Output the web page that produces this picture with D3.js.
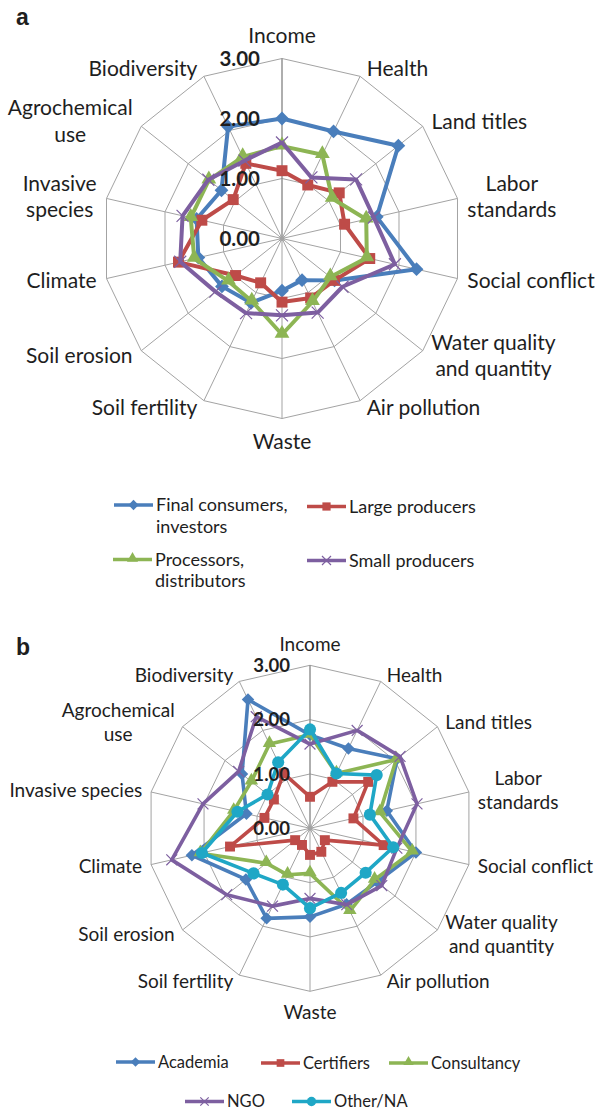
<!DOCTYPE html>
<html><head><meta charset="utf-8">
<script src="https://cdn.jsdelivr.net/npm/d3@7"></script>
<style>
body{margin:0;background:#fff}
svg text{font-family:Lato,"Open Sans",sans-serif;fill:#1e1e1e}
</style>
</head><body>
<svg id="c" width="596" height="1113"></svg>
<script>
// ---------- DATA ----------
const axes = ["Income","Health","Land titles","Labor standards","Social conflict","Water quality and quantity","Air pollution","Waste","Soil fertility","Soil erosion","Climate","Invasive species","Agrochemical use","Biodiversity"];
const tickValues = [0,1,2,3];
const tickLabels = ["0.00","1.00","2.00","3.00"];

const groupsA = ["Final consumers, investors","Large producers","Processors, distributors","Small producers"];
const finalConsumers = [2.00,1.98,2.48,1.62,2.30,1.12,0.77,0.87,1.19,1.28,1.43,1.46,1.29,2.07];
const largeProducers = [1.13,0.99,1.22,1.07,1.50,1.12,1.10,1.06,0.82,0.99,1.77,1.37,1.04,1.39];
const processors     = [1.54,1.55,1.07,1.44,1.45,1.03,1.17,1.60,1.16,1.14,1.50,1.56,1.56,1.51];
const smallProducers = [1.60,1.13,1.58,1.57,1.93,1.29,1.37,1.28,1.38,1.42,1.74,1.70,1.57,1.44];

const groupsB = ["Academia","Certifiers","Consultancy","NGO","Other/NA"];
const academia    = [1.72,1.63,2.05,1.45,2.00,1.58,1.55,1.63,1.84,1.51,2.23,1.20,1.60,2.63];
const certifiers  = [0.58,0.95,1.37,0.82,1.39,0.35,0.48,0.49,0.34,0.35,1.51,0.86,0.85,1.12];
const consultancy = [1.72,1.12,2.03,1.32,1.93,1.52,1.69,0.83,0.95,1.03,2.07,1.44,1.38,1.72];
const ngo         = [1.55,2.00,2.12,2.02,1.64,1.69,1.56,1.29,1.59,1.96,2.61,2.02,1.68,2.28];
const otherNA     = [1.82,1.12,1.57,1.13,1.57,1.31,1.32,1.47,1.15,1.33,2.04,1.37,1.00,1.35];

// ---------- STYLE ----------
const col = {blue:"#4A7EBB", red:"#BE4B48", green:"#8DB554", purple:"#7D5FA0", teal:"#1FA7C6"};
const svg = d3.select("#c");

function marker(sel, type, color, s){
  if(type==="diamond"){
    sel.append("path").attr("d", d3.symbol(d3.symbolSquare, 95*s*s)()).attr("transform","rotate(45)").attr("fill", color);
  } else if(type==="square"){
    sel.append("path").attr("d", d3.symbol(d3.symbolSquare, 120*s*s)()).attr("fill", color);
  } else if(type==="triangle"){
    sel.append("path").attr("d", d3.symbol(d3.symbolTriangle, 95*s*s)()).attr("transform","translate(0,-1)").attr("fill", color);
  } else if(type==="x"){
    const h = 6*s;
    sel.append("path").attr("d", `M${-h},${-h}L${h},${h}M${-h},${h}L${h},${-h}`).attr("stroke", color).attr("stroke-width",1.2).attr("fill","none");
  } else if(type==="circle"){
    sel.append("path").attr("d", d3.symbol(d3.symbolCircle, 140*s*s)()).attr("fill", color);
  }
}

function radar(opt){
  const {cx, cy, R, k, series, letter, letterPos, invasiveTwoLines} = opt;
  const g = svg.append("g").attr("transform",`translate(${cx},${cy})`);
  const r = d3.scaleLinear().domain([0,3]).range([0,R]);
  const ang = d3.scaleLinear().domain([0,axes.length]).range([0,2*Math.PI]);
  const pt = (i,v)=>[Math.sin(ang(i))*r(v), -Math.cos(ang(i))*r(v)];

  // rings
  tickValues.filter(v=>v>0).forEach(v=>{
    g.append("path").attr("d", d3.line()(axes.map((a,i)=>pt(i,v)))+"Z")
      .attr("fill","none").attr("stroke","#a3a3a3").attr("stroke-width",1);
  });
  // spokes
  axes.forEach((a,i)=>{
    const p = pt(i,3);
    g.append("line").attr("x1",0).attr("y1",0).attr("x2",p[0]).attr("y2",p[1])
      .attr("stroke", i===0?"#8c8c8c":"#a3a3a3").attr("stroke-width", i===0?1.4:1);
  });
  g.append("circle").attr("r",2.5).attr("fill","#a3a3a3");

  // series
  const line = d3.lineRadial().angle((d,i)=>ang(i)).radius(d=>r(d)).curve(d3.curveLinearClosed);
  series.forEach(s=>{
    g.append("path").attr("d", line(s.values)).attr("fill","none")
      .attr("stroke", s.color).attr("stroke-width", s.lw).attr("stroke-linejoin","round");
    s.values.forEach((v,i)=>{
      const p = pt(i,v);
      const m = g.append("g").attr("transform",`translate(${p[0]},${p[1]})`);
      marker(m, s.marker, s.color, k);
    });
  });

  // tick labels
  tickValues.forEach((v,j)=>{
    g.append("text").attr("x",-22*k).attr("y",-r(v)).attr("dy","0.36em")
      .attr("text-anchor","end").attr("font-weight","bold").attr("font-size",20.5*k+"px")
      .text(tickLabels[j]);
  });

  // axis labels
  const fs = 21*k, lh = 26.5*k;
  axes.forEach((a,i)=>{
    let lines = [a];
    if(a==="Labor standards") lines=["Labor","standards"];
    if(a==="Water quality and quantity") lines=["Water quality","and quantity"];
    if(a==="Agrochemical use") lines=["Agrochemical","use"];
    if(a==="Invasive species" && invasiveTwoLines) lines=["Invasive","species"];
    const s = Math.sin(ang(i)), c = Math.cos(ang(i));
    const e = pt(i,3);
    const t = g.append("text").attr("font-size",fs+"px").attr("text-anchor","middle");
    const spans = lines.map(l=>t.append("tspan").text(l));
    const w = d3.max(spans.map(sp=>sp.node().getComputedTextLength()));
    let bx, bcy;
    if(Math.abs(s)<0.05){
      bx = e[0];
      bcy = e[1] - c*23*k;
    } else {
      const pad = (4+6*Math.abs(s))*k;
      bx = s>0 ? e[0]+pad+w/2 : e[0]-pad-w/2;
      bcy = e[1] - c*8*k;
    }
    spans.forEach((sp,j)=>{
      sp.attr("x",bx).attr("y", bcy - (lines.length-1)*lh/2 + j*lh).attr("dy","0.35em");
    });
  });

  svg.append("text").attr("x",letterPos[0]).attr("y",letterPos[1]).attr("font-weight","bold")
    .attr("font-size","23px").style("font-family","Liberation Sans, Arial, sans-serif").text(letter);
}

const seriesA = [
  {name:groupsA[0], values:finalConsumers, color:col.blue, marker:"diamond", lw:4},
  {name:groupsA[1], values:largeProducers, color:col.red, marker:"square", lw:4},
  {name:groupsA[2], values:processors, color:col.green, marker:"triangle", lw:4},
  {name:groupsA[3], values:smallProducers, color:col.purple, marker:"x", lw:4}
];
const seriesB = [
  {name:groupsB[0], values:academia, color:col.blue, marker:"diamond", lw:3.6},
  {name:groupsB[1], values:certifiers, color:col.red, marker:"square", lw:3.6},
  {name:groupsB[2], values:consultancy, color:col.green, marker:"triangle", lw:3.6},
  {name:groupsB[3], values:ngo, color:col.purple, marker:"x", lw:3.6},
  {name:groupsB[4], values:otherNA, color:col.teal, marker:"circle", lw:3.6}
];

radar({cx:282, cy:238.5, R:180, k:1, series:seriesA, letter:"a", letterPos:[16,25], invasiveTwoLines:true});
radar({cx:310, cy:828.3, R:163, k:0.906, series:seriesB, letter:"b", letterPos:[16,655], invasiveTwoLines:false});

// legends
function legendItem(x, y, s, lines, fs, lh, k){
  const g = svg.append("g");
  g.append("line").attr("x1",x).attr("x2",x+39).attr("y1",y).attr("y2",y)
    .attr("stroke",s.color).attr("stroke-width",3.5);
  const m = g.append("g").attr("transform",`translate(${x+19.5},${y})`);
  marker(m, s.marker, s.color, k);
  const t = g.append("text").attr("font-size",fs+"px");
  lines.forEach((l,j)=>t.append("tspan").attr("x",x+42).attr("y",y+j*lh).attr("dy","0.35em").text(l));
}
const legAfs = 18, legBfs = 16.5;
legendItem(114, 505, seriesA[0], ["Final consumers,","investors"], legAfs, 21.5, 0.75);
legendItem(307, 506.5, seriesA[1], ["Large producers"], legAfs, 21.5, 0.75);
legendItem(113, 559.5, seriesA[2], ["Processors,","distributors"], legAfs, 21.5, 0.75);
legendItem(307, 560.5, seriesA[3], ["Small producers"], legAfs, 21.5, 0.75);

legendItem(116, 1062, seriesB[0], ["Academia"], legBfs, 20, 0.7);
legendItem(261, 1063, seriesB[1], ["Certifiers"], legBfs, 20, 0.7);
legendItem(389, 1063, seriesB[2], ["Consultancy"], legBfs, 20, 0.7);
legendItem(185, 1101.5, seriesB[3], ["NGO"], legBfs, 20, 0.7);
legendItem(292, 1101.5, seriesB[4], ["Other/NA"], legBfs, 20, 0.7);
</script>
</body></html>
